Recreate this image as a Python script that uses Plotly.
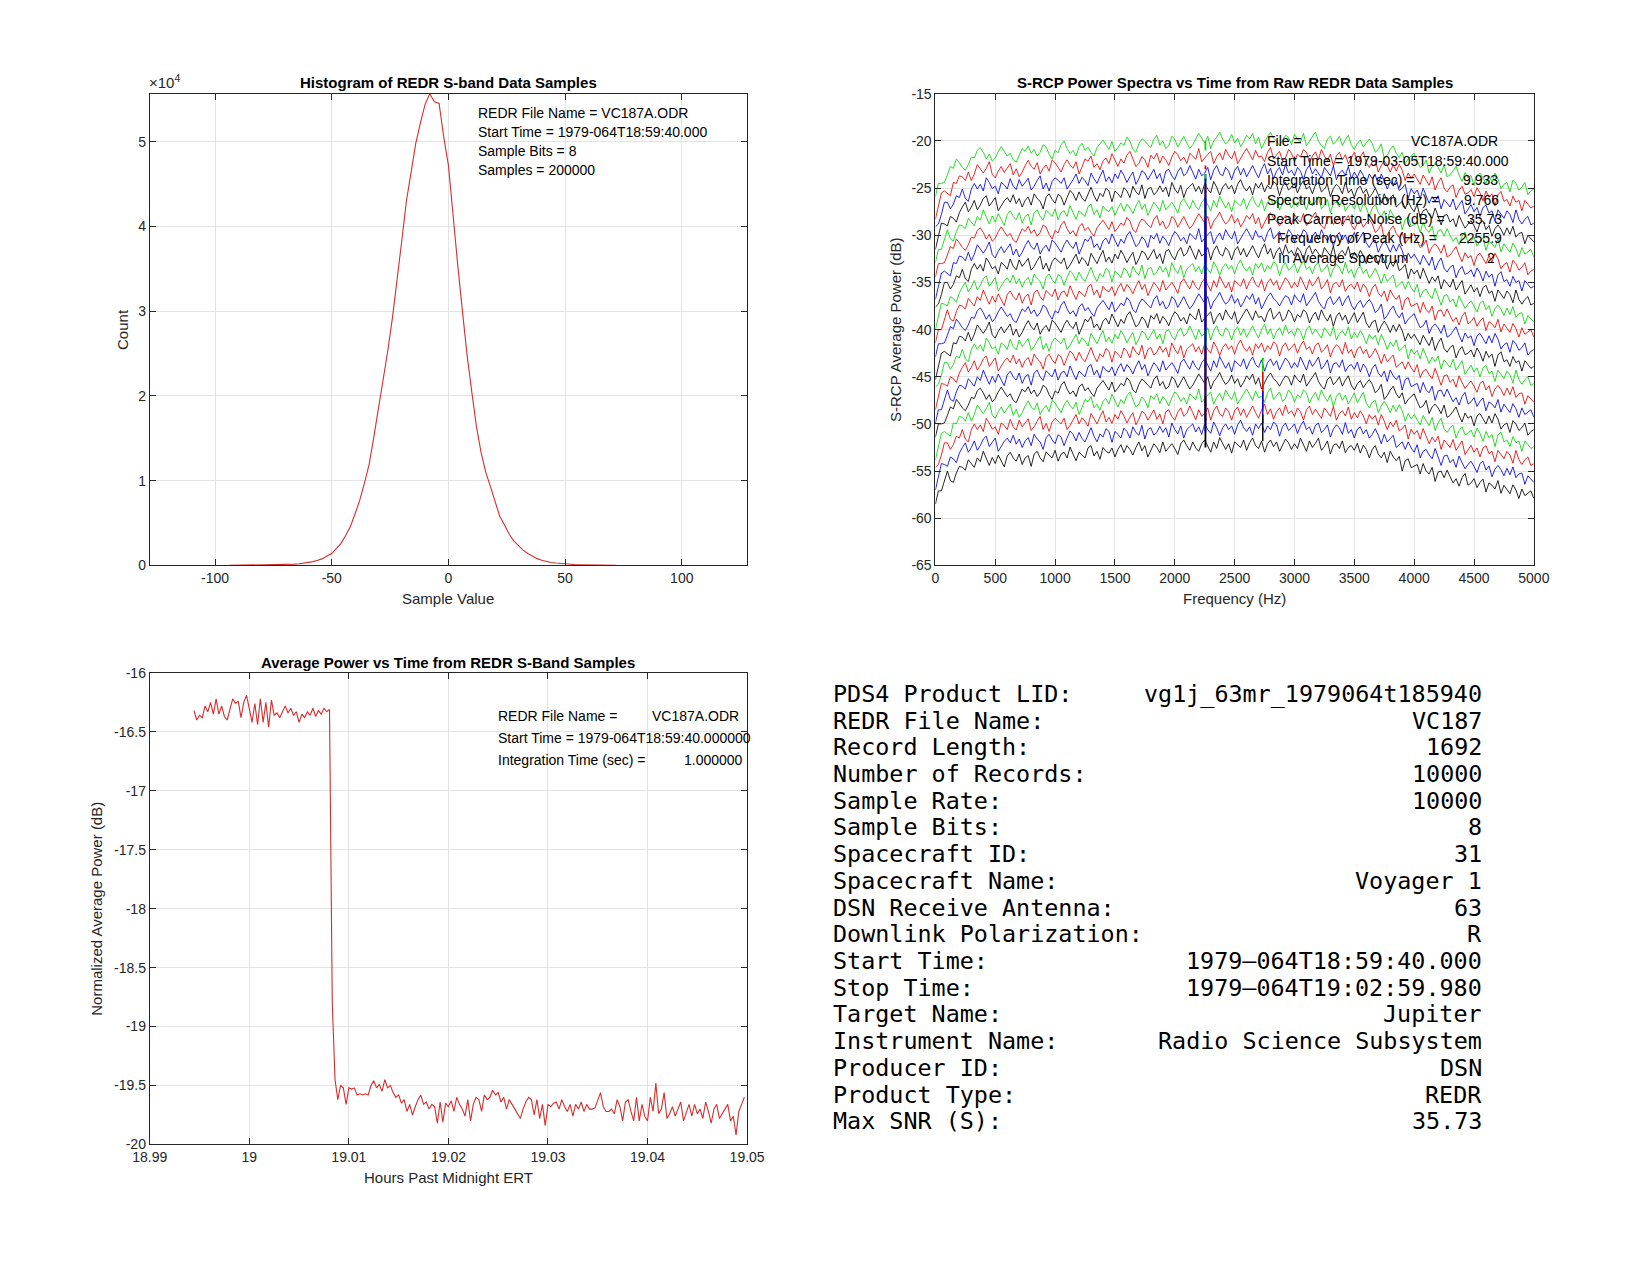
import numpy as np
import plotly.graph_objects as go

W, H = 1650, 1275
SANS = "Liberation Sans, Arial, Helvetica, sans-serif"
MONO = "DejaVu Sans Mono, monospace"
AX = "#262626"
GRID = "#e3e3e3"

# ---------------- Histogram data ----------------
hist_values = [-94, -92, -90, -88, -86, -84, -82, -80, -78, -76, -74, -72, -70, -68, -66, -64,
               -62, -60, -58, -56, -54, -52, -50, -48, -46, -44, -42, -40, -38, -36, -34, -32,
               -30, -28, -26, -24, -22, -20, -18, -16, -14, -12, -10, -8, -6, -4, -2, 0,
               2, 4, 6, 8, 10, 12, 14, 16, 18, 20, 22, 24, 26, 28, 30, 32,
               34, 36, 38, 40, 42, 44, 46, 48, 50, 52, 54, 56, 58, 60, 62, 64,
               66, 68, 70, 72]
hist_counts = [0, 5, 10, 12, 18, 20, 25, 30, 40, 50, 65, 80, 100, 120, 150, 200,
               260, 350, 450, 600, 800, 1100, 1400, 2000, 2600, 3550, 4600, 6100, 7700, 9700, 11900, 15100,
               18400, 21800, 25300, 29200, 33500, 38300, 43000, 46500, 49800, 52200, 54400, 55640, 54700, 54500, 50500, 47200,
               41000, 35400, 30000, 24800, 20500, 16400, 13300, 11000, 9300, 7500, 5800, 4800, 3700, 2900, 2300, 1800,
               1400, 1100, 800, 600, 450, 350, 280, 220, 170, 130, 100, 80, 60, 45, 40, 30,
               20, 15, 10, 0]

# ---------------- Spectra data ----------------
freq_step_hz = 25
freq_max_hz = 5000
shape_rel_db = [
    -6.0, -5.0, -4.2, -3.6, -3.2, -3.0, -2.8, -2.6, -2.5, -2.3, -2.1, -1.9, -1.7, -1.5, -1.4, -1.3, -1.2, -1.2, -1.2, -1.25,
    -1.3, -1.3, -1.3, -1.25, -1.2, -1.2, -1.2, -1.15, -1.1, -1.1, -1.1, -1.05, -1.0, -1.0, -1.0, -1.0, -1.0, -0.95, -0.9, -0.9,
    -0.9, -0.85, -0.8, -0.8, -0.8, -0.75, -0.7, -0.7, -0.7, -0.65, -0.6, -0.55, -0.5, -0.5, -0.5, -0.45, -0.4, -0.4, -0.4, -0.35,
    -0.3, -0.3, -0.3, -0.25, -0.2, -0.2, -0.2, -0.2, -0.2, -0.15, -0.1, -0.1, -0.1, -0.1, -0.1, -0.05, 0.0, 0.0, 0.0, 0.0,
    0.0, 0.05, 0.1, 0.1, 0.1, 0.1, 0.1, 0.15, 0.2, 0.2, 0.2, 0.2, 0.2, 0.2, 0.2, 0.25, 0.3, 0.3, 0.3, 0.3,
    0.3, 0.3, 0.3, 0.3, 0.3, 0.3, 0.3, 0.3, 0.3, 0.3, 0.3, 0.3, 0.3, 0.3, 0.3, 0.3, 0.3, 0.3, 0.3, 0.3,
    0.3, 0.3, 0.3, 0.3, 0.3, 0.3, 0.3, 0.25, 0.2, 0.2, 0.2, 0.2, 0.2, 0.15, 0.1, 0.1, 0.1, 0.05, 0.0, 0.0,
    0.0, -0.05, -0.1, -0.15, -0.2, -0.3, -0.4, -0.5, -0.6, -0.7, -0.8, -0.9, -1.0, -1.1, -1.2, -1.35, -1.5, -1.6, -1.7, -1.85,
    -2.0, -2.1, -2.2, -2.3, -2.4, -2.5, -2.6, -2.7, -2.8, -2.9, -3.0, -3.1, -3.2, -3.25, -3.3, -3.4, -3.5, -3.55, -3.6, -3.65,
    -3.7, -3.75, -3.8, -3.85, -3.9, -3.95, -4.0, -4.1, -4.2, -4.25, -4.3, -4.4, -4.5, -4.55, -4.6, -4.7, -4.8, -4.9, -5.0, -5.1,
    -5.2]
trace_levels_db = [-20.2, -21.9, -23.6, -25.3, -27.0, -28.7, -30.4, -32.1, -33.8, -35.5,
                   -37.2, -38.9, -40.6, -42.3, -44.0, -45.7, -47.4, -49.1, -50.8, -52.6]
trace_colors = ["rgb(0,215,0)", "rgb(235,0,0)", "rgb(0,0,230)", "rgb(0,0,0)"]

noise_1 = [
    0.3, 0.7, -0.1, -0.6, -0.2, 0.5, 0.1, 0.9, 0.4, -0.3, -0.8, -0.4, 0.2, -0.1, 0.6, 0.8, 0.2, -0.5, 0.0, -0.7,
    -0.3, 0.4, 0.9, 0.3, -0.2, 0.1, -0.6, -0.9, -0.2, 0.5, 0.2, 0.7, -0.1, 0.3, -0.4, 0.0, 0.8, 0.5, -0.3, -0.8,
    0.1, -0.2, 0.6, 1.0, 0.2, -0.4, -0.1, -0.7, 0.3, 0.6, -0.2, 0.1, -0.5, -0.9, 0.0, 0.4, 0.7, 0.2, -0.3, 0.5,
    -0.6, -0.2, 0.3, 0.0, 0.8, 0.4, -0.5, -0.8, 0.1, 0.6, 0.3, -0.1, -0.4, 0.5, 0.9, -0.2, 0.2, -0.6, -0.3, 0.7,
    0.4, -0.5, 0.1, 0.6, -0.1, -0.7, -0.3, 0.2, 0.8, 0.3, -0.2, 0.5, -0.8, 0.0, 0.4, 0.9, 0.1, -0.4, -0.1, 0.6,
    -0.3, 0.2, -0.7, -0.2, 0.5, 0.1, 0.7, -0.4, 0.3, -0.9, -0.3, 0.4, 0.8, 0.2, -0.1, -0.6, 0.0, 0.5, 0.3, -0.5,
    0.6, 0.1, -0.2, 0.7, -0.6, -0.1, 0.4, 0.9, 0.0, -0.5, -0.8, 0.2, 0.5, -0.3, 0.1, 0.6, -0.4, 0.3, 0.8, -0.2,
    -0.7, 0.0, 0.4, -0.3, 0.2, 0.7, 0.3, -0.5, -0.1, 0.6, -0.9, -0.4, 0.3, 0.8, 0.1, -0.2, 0.5, -0.6, 0.0, 0.4,
    0.9, 0.2, -0.4, -0.1, 0.6, -0.7, 0.1, 0.5, 0.2, -0.3, 0.7, -0.5, -0.2, 0.3, 0.8, 0.0, -0.6, 0.4, -0.1, 0.2,
    -0.8, 0.3, 0.6, 0.1, -0.4, 0.5, -0.2, 0.9, 0.4, -0.6, -0.1, 0.2, -0.7, 0.6, 0.3, -0.3, 0.1, 0.7, -0.5, 0.0,
    0.3]
noise_2 = [
    -0.4, 0.1, 0.6, 0.2, -0.5, -0.9, 0.3, 0.0, 0.7, 0.4, -0.2, 0.5, -0.6, -0.1, 0.8, 0.3, -0.3, 0.2, 0.9, -0.4,
    -0.7, 0.0, 0.5, -0.2, 0.3, 0.7, -0.5, 0.1, -0.8, -0.3, 0.4, 0.9, 0.2, -0.1, 0.6, -0.6, 0.0, 0.3, -0.4, 0.8,
    0.5, -0.1, -0.6, 0.2, 0.7, 0.1, -0.3, 0.4, -0.9, -0.2, 0.6, 0.3, 0.8, -0.4, 0.0, -0.7, 0.2, 0.5, -0.1, 0.9,
    0.1, -0.5, 0.3, -0.2, 0.6, 1.0, 0.2, -0.6, -0.3, 0.4, 0.0, -0.8, 0.5, 0.1, 0.7, -0.4, 0.3, -0.1, -0.7, 0.2,
    0.8, 0.4, -0.3, 0.1, -0.6, 0.5, 0.2, -0.2, 0.9, -0.5, -0.1, 0.3, 0.6, -0.7, 0.0, 0.4, -0.4, 0.7, 0.1, -0.3,
    0.5, -0.8, -0.2, 0.3, 0.8, 0.2, -0.4, 0.6, -0.1, 0.0, -0.6, 0.4, 0.9, -0.3, 0.1, 0.5, -0.5, -0.2, 0.7, 0.3,
    -0.6, 0.2, -0.1, 0.7, 0.4, -0.7, 0.0, 0.5, -0.3, 0.8, 0.1, -0.4, 0.3, -0.9, 0.2, 0.6, -0.2, 0.4, -0.5, 0.1,
    0.7, -0.3, 0.3, 0.9, -0.2, -0.6, 0.1, 0.4, -0.8, 0.0, 0.6, 0.2, -0.4, 0.5, -0.1, 0.8, 0.3, -0.7, 0.2, -0.2,
    0.4, 0.0, -0.5, 0.6, 0.1, -0.3, 0.7, -0.6, 0.3, 0.9, -0.1, -0.4, 0.2, 0.5, -0.8, 0.1, 0.6, -0.2, 0.0, 0.4,
    -0.3, 0.7, 0.2, -0.6, 0.5, -0.1, 0.3, -0.9, 0.4, 0.8, -0.2, 0.1, -0.5, 0.6, 0.0, 0.3, -0.7, 0.5, 0.2, -0.1,
    0.2]
noise_3 = [
    0.5, -0.2, 0.0, 0.7, 0.3, -0.6, -0.3, 0.4, 0.1, 0.8, -0.4, -0.9, 0.2, 0.6, -0.1, 0.3, -0.5, 0.9, 0.4, -0.2,
    0.1, -0.7, 0.5, 0.2, -0.3, 0.8, 0.0, -0.4, 0.6, -0.1, 0.3, 0.7, -0.6, -0.2, 0.4, 0.9, -0.5, 0.1, -0.8, 0.2,
    0.6, 0.3, -0.1, 0.5, -0.7, -0.3, 0.2, 0.8, -0.2, 0.4, 0.0, -0.6, 0.7, 0.1, -0.4, 0.3, 0.9, -0.3, 0.2, -0.5,
    0.4, -0.1, 0.8, 0.2, -0.6, 0.0, 0.5, -0.8, -0.2, 0.6, 0.3, -0.4, 0.1, 0.7, -0.3, 0.2, -0.9, 0.4, 0.6, -0.1,
    -0.5, 0.3, 0.7, -0.2, 0.1, 0.9, 0.2, -0.6, 0.4, -0.3, 0.0, 0.6, -0.7, 0.3, 0.8, -0.1, -0.4, 0.5, 0.1, -0.8,
    0.2, 0.6, -0.3, 0.4, -0.5, 0.1, 0.7, 0.0, -0.6, 0.3, 0.9, -0.2, 0.4, -0.7, 0.1, 0.5, -0.3, 0.8, -0.1, 0.2,
    -0.4, 0.5, 0.1, -0.8, 0.3, 0.7, -0.2, 0.4, 0.0, -0.5, 0.6, 0.2, -0.3, 0.8, -0.6, 0.1, 0.4, -0.1, 0.9, -0.4,
    0.3, -0.2, 0.6, 0.1, -0.7, 0.4, 0.0, 0.5, -0.4, 0.8, 0.2, -0.6, 0.3, -0.1, 0.7, -0.3, 0.1, 0.6, -0.8, 0.4,
    0.0, 0.5, -0.3, 0.9, 0.2, -0.5, 0.3, -0.1, 0.6, -0.7, 0.4, 0.1, -0.2, 0.7, -0.4, 0.2, 0.8, -0.6, 0.0, 0.5,
    -0.2, 0.3, -0.6, 0.4, 0.7, -0.1, 0.2, -0.8, 0.5, 0.1, -0.3, 0.6, 0.3, -0.5, 0.9, 0.0, -0.4, 0.2, 0.6, -0.2,
    0.1]
noise_4 = [
    -0.2, 0.4, 0.8, 0.1, -0.5, 0.3, -0.1, -0.7, 0.2, 0.6, 0.9, -0.3, 0.0, 0.5, -0.6, -0.2, 0.4, 0.7, -0.4, 0.1,
    0.6, -0.8, -0.3, 0.2, 0.5, 0.0, 0.8, -0.2, 0.3, -0.6, 0.1, 0.4, -0.5, 0.7, 0.2, -0.1, -0.9, 0.3, 0.6, 0.0,
    -0.4, 0.5, 0.2, -0.7, 0.1, 0.8, 0.4, -0.3, 0.6, -0.1, -0.5, 0.3, 0.9, 0.0, -0.6, 0.2, -0.2, 0.7, 0.4, -0.8,
    0.3, 0.0, -0.4, 0.6, 0.2, -0.5, 0.7, 0.1, -0.2, 0.8, -0.7, 0.3, 0.5, -0.3, 0.0, 0.6, -0.1, 0.4, -0.6, 0.9,
    0.2, -0.3, 0.5, -0.8, 0.1, 0.4, 0.7, -0.2, 0.3, -0.5, 0.6, 0.0, -0.4, 0.8, 0.2, -0.7, 0.1, 0.5, -0.1, 0.3,
    -0.6, 0.4, 0.9, 0.1, -0.3, 0.2, -0.7, 0.5, 0.0, 0.6, -0.4, 0.3, -0.1, 0.7, 0.4, -0.8, 0.2, 0.6, -0.2, 0.1,
    0.5, -0.5, 0.3, 0.8, -0.1, 0.2, -0.6, 0.4, 0.7, -0.3, 0.0, 0.5, -0.8, 0.1, 0.6, 0.3, -0.4, 0.9, -0.2, 0.2,
    -0.7, 0.3, 0.6, -0.1, 0.4, -0.4, 0.1, 0.8, 0.2, -0.6, 0.5, -0.2, 0.3, 0.7, -0.5, 0.0, 0.4, -0.3, 0.6, 0.1,
    -0.2, 0.7, -0.6, 0.2, 0.5, 0.0, -0.3, 0.9, 0.1, -0.7, 0.4, 0.6, -0.1, 0.3, -0.5, 0.8, 0.2, -0.4, 0.1, 0.5,
    0.0, -0.6, 0.4, 0.7, -0.2, 0.3, -0.8, 0.1, 0.6, 0.2, -0.4, 0.5, -0.1, 0.8, -0.3, 0.2, 0.4, -0.7, 0.3, 0.0,
    -0.2]
noise_5 = [
    0.1, 0.5, -0.3, 0.2, 0.8, -0.4, -0.8, 0.0, 0.6, 0.3, -0.2, 0.7, 0.1, -0.5, 0.4, -0.1, 0.9, 0.2, -0.6, 0.3,
    -0.3, 0.6, 0.0, -0.7, 0.4, 0.8, 0.2, -0.2, 0.5, -0.6, 0.1, 0.3, -0.9, 0.4, 0.7, 0.0, -0.4, 0.6, 0.2, -0.1,
    0.7, -0.5, 0.2, 0.4, -0.2, 0.9, 0.1, -0.6, 0.3, 0.0, -0.4, 0.6, 0.8, -0.3, 0.2, -0.7, 0.5, 0.1, -0.1, 0.4,
    -0.6, 0.2, 0.7, -0.2, 0.5, 0.1, -0.5, 0.3, 0.9, -0.1, 0.4, -0.8, 0.0, 0.6, 0.2, -0.4, 0.7, -0.3, 0.1, 0.5,
    0.0, -0.7, 0.4, 0.8, 0.2, -0.3, 0.6, -0.1, -0.5, 0.3, 0.7, 0.1, -0.6, 0.5, -0.2, 0.9, 0.3, -0.4, 0.2, -0.8,
    0.4, 0.1, -0.2, 0.6, -0.5, 0.3, 0.8, 0.0, -0.3, 0.5, -0.7, 0.2, 0.6, -0.1, 0.4, -0.6, 0.1, 0.7, 0.3, -0.4,
    0.2, -0.3, 0.8, 0.1, -0.6, 0.5, -0.2, 0.3, 0.9, -0.4, 0.0, 0.6, -0.8, 0.2, 0.4, -0.1, 0.7, -0.5, 0.1, 0.3,
    -0.2, 0.6, -0.4, 0.5, 0.1, -0.7, 0.3, 0.8, 0.0, -0.3, 0.4, -0.6, 0.7, 0.2, -0.1, 0.5, -0.9, 0.3, 0.6, -0.2,
    0.1, 0.4, -0.5, 0.7, 0.0, -0.2, 0.6, -0.8, 0.3, 0.5, -0.1, 0.8, 0.2, -0.4, 0.1, -0.6, 0.4, 0.9, -0.3, 0.0,
    0.5, -0.4, 0.2, 0.6, -0.7, 0.3, 0.1, -0.2, 0.8, -0.5, 0.4, 0.0, -0.3, 0.7, 0.2, -0.6, 0.5, -0.1, 0.3, 0.6,
    -0.1]

carrier_freq_hz = 2255.9
carrier_grid_index = 90
carrier_peak_db = [-20.0, -23.0, -23.5, -25.5, -23.5, -24.5, -24.0, -30.0, -27.0, -28.0,
                   -26.0, -36.0, -33.0, -34.0, -28.5, -42.0, -40.0, -42.0, -31.0, -47.0]
tone2_freq_hz = 2735.0
tone2_grid_index = 109
tone2_peak_db = [None, None, None, None, None, None, None, None, None, None,
                 None, None, None, None, -43.0, -46.0, -43.0, -44.5, -46.5, -49.0]

# ---------------- Average power data ----------------
start_time_hours = 18.994444
integration_sec = 1.0
power_db = [
    -16.32, -16.40, -16.36, -16.38, -16.28, -16.33, -16.25, -16.35, -16.22, -16.35,
    -16.28, -16.37, -16.40, -16.30, -16.22, -16.26, -16.24, -16.38, -16.25, -16.19,
    -16.32, -16.42, -16.26, -16.44, -16.22, -16.42, -16.25, -16.46, -16.23, -16.36,
    -16.34, -16.38, -16.33, -16.28, -16.34, -16.30, -16.36, -16.33, -16.42, -16.35,
    -16.38, -16.33, -16.36, -16.30, -16.37, -16.32, -16.35, -16.30, -16.33, -16.31,
    -18.80, -19.45,
    -19.62, -19.50, -19.52, -19.66, -19.52, -19.53, -19.52, -19.58, -19.57, -19.58,
    -19.57, -19.58, -19.50, -19.46, -19.52,
    -19.49, -19.55, -19.45, -19.52, -19.50, -19.56, -19.60, -19.58, -19.65, -19.62,
    -19.72, -19.66, -19.75, -19.68,
    -19.62, -19.58, -19.66, -19.64, -19.70, -19.66, -19.68, -19.82, -19.64, -19.81,
    -19.65, -19.68, -19.63, -19.72, -19.60, -19.66, -19.70, -19.76, -19.62, -19.80,
    -19.66, -19.60, -19.62, -19.72, -19.58, -19.62, -19.60, -19.54, -19.58, -19.56,
    -19.64, -19.60, -19.70, -19.62, -19.66, -19.70, -19.74, -19.78, -19.70, -19.64,
    -19.60, -19.62, -19.75, -19.62, -19.78, -19.66, -19.84, -19.66, -19.68, -19.65,
    -19.64, -19.70, -19.62, -19.68, -19.72, -19.66, -19.76, -19.66, -19.70, -19.64,
    -19.72, -19.66, -19.70, -19.70, -19.69, -19.62, -19.56, -19.68, -19.72, -19.72,
    -19.70, -19.74, -19.62, -19.68, -19.80, -19.64, -19.62, -19.72, -19.80, -19.60,
    -19.80, -19.66, -19.76, -19.80, -19.60, -19.72, -19.48, -19.74, -19.70, -19.56,
    -19.78, -19.74, -19.68, -19.76, -19.70, -19.64, -19.80, -19.72, -19.66, -19.76,
    -19.66, -19.74, -19.70, -19.78, -19.64, -19.72, -19.82, -19.70, -19.66, -19.78,
    -19.74, -19.70, -19.66, -19.80, -19.76, -19.92, -19.72, -19.66, -19.60,
]

# ---------------- Table text ----------------
table_labels = ["PDS4 Product LID:", "REDR File Name:", "Record Length:", "Number of Records:",
                "Sample Rate:", "Sample Bits:", "Spacecraft ID:", "Spacecraft Name:",
                "DSN Receive Antenna:", "Downlink Polarization:", "Start Time:", "Stop Time:",
                "Target Name:", "Instrument Name:", "Producer ID:", "Product Type:", "Max SNR (S):"]
table_values = ["vg1j_63mr_1979064t185940", "VC187", "1692", "10000", "10000", "8", "31",
                "Voyager 1", "63", "R", "1979\u2013064T18:59:40.000", "1979\u2013064T19:02:59.980",
                "Jupiter", "Radio Science Subsystem", "DSN", "REDR", "35.73"]

# ---------------- Figure ----------------
fig = go.Figure()

fig.add_trace(go.Scatter(x=hist_values, y=hist_counts, mode="lines",
                         line=dict(color="rgb(215,45,45)", width=1.1),
                         xaxis="x", yaxis="y", hoverinfo="skip"))

freq = np.arange(0, freq_max_hz + 1, freq_step_hz)
noise_sets = [noise_1, noise_2, noise_3, noise_4, noise_5]
for i, lvl in enumerate(trace_levels_db):
    col = trace_colors[i % 4]
    y = np.array(shape_rel_db) + lvl + np.array(noise_sets[i % 5])
    fig.add_trace(go.Scatter(x=freq, y=y, mode="lines", line=dict(color=col, width=0.85),
                             xaxis="x2", yaxis="y2", hoverinfo="skip"))
    fig.add_trace(go.Scatter(x=[carrier_freq_hz, carrier_freq_hz],
                             y=[y[carrier_grid_index] - 0.8, carrier_peak_db[i]],
                             mode="lines", line=dict(color=col, width=1.8),
                             xaxis="x2", yaxis="y2", hoverinfo="skip"))
    if tone2_peak_db[i] is not None:
        fig.add_trace(go.Scatter(x=[tone2_freq_hz, tone2_freq_hz],
                                 y=[y[tone2_grid_index], tone2_peak_db[i]],
                                 mode="lines", line=dict(color=col, width=1.4),
                                 xaxis="x2", yaxis="y2", hoverinfo="skip"))

t_hours = start_time_hours + np.arange(len(power_db)) * integration_sec / 3600.0
fig.add_trace(go.Scatter(x=t_hours, y=power_db, mode="lines",
                         line=dict(color="rgb(215,45,45)", width=1.1),
                         xaxis="x3", yaxis="y3", hoverinfo="skip"))


def px_x(p):
    return p / W


def px_y(p):
    return 1 - p / H


def axis_common(**kw):
    d = dict(showline=True, linecolor=AX, linewidth=1, mirror="ticks", ticks="inside",
             ticklen=6, tickcolor=AX, tickwidth=1, showgrid=True, gridcolor=GRID,
             gridwidth=1, zeroline=False, tickfont=dict(family=SANS, size=14, color=AX),
             fixedrange=True)
    d.update(kw)
    return d


hx_ticks = [-100, -50, 0, 50, 100]
hy_ticks = [0, 10000, 20000, 30000, 40000, 50000]
sx_ticks = [0, 500, 1000, 1500, 2000, 2500, 3000, 3500, 4000, 4500, 5000]
sy_ticks = [-65, -60, -55, -50, -45, -40, -35, -30, -25, -20, -15]
px_ticks = [18.99, 19.0, 19.01, 19.02, 19.03, 19.04, 19.05]
py_ticks = [-20, -19.5, -19, -18.5, -18, -17.5, -17, -16.5, -16]


def lab(v):
    return "%g" % v


# axes boxes (page pixels)
L1, R1 = 126.5, 737.2
L2, R2 = 929.7, 1541.5
T1, B1 = 78.8, 556.4
T2, B2 = 665.2, 1142.8

fig.update_layout(
    width=W, height=H, margin=dict(l=0, r=0, t=0, b=0), autosize=False,
    paper_bgcolor="white", plot_bgcolor="white", showlegend=False,
    xaxis=axis_common(domain=[px_x(L1), px_x(R1)], range=[-128, 128], anchor="y",
                      tickvals=hx_ticks, ticktext=[lab(v) for v in hx_ticks]),
    yaxis=axis_common(domain=[px_y(B1), px_y(T1)], range=[0, 55640], anchor="x",
                      tickvals=hy_ticks, ticktext=["0", "1", "2", "3", "4", "5"]),
    xaxis2=axis_common(domain=[px_x(L2), px_x(R2)], range=[0, 5000], anchor="y2",
                       tickvals=sx_ticks, ticktext=[lab(v) for v in sx_ticks]),
    yaxis2=axis_common(domain=[px_y(B1), px_y(T1)], range=[-65, -15], anchor="x2",
                       tickvals=sy_ticks, ticktext=[lab(v) for v in sy_ticks]),
    xaxis3=axis_common(domain=[px_x(L1), px_x(R1)], range=[18.99, 19.05], anchor="y3",
                       tickvals=px_ticks, ticktext=[lab(v) for v in px_ticks]),
    yaxis3=axis_common(domain=[px_y(B2), px_y(T2)], range=[-20, -16], anchor="x3",
                       tickvals=py_ticks, ticktext=[lab(v) for v in py_ticks]),
)

anns = []


def ann(text, x, y, size=14, xanchor="left", yanchor="middle", bold=False, angle=0,
        family=SANS, color="black"):
    t = "<b>%s</b>" % text if bold else text
    anns.append(dict(text=t, x=px_x(x), y=px_y(y), xref="paper", yref="paper",
                     xanchor=xanchor, yanchor=yanchor, showarrow=False, textangle=angle,
                     font=dict(family=family, size=size, color=color)))


c1 = (L1 + R1) / 2
c2 = (L2 + R2) / 2
# titles
ann("Histogram of REDR S-band Data Samples", c1, 67.5, size=15, xanchor="center", bold=True)
ann("S-RCP Power Spectra vs Time from Raw REDR Data Samples", c2, 67.5, size=15,
    xanchor="center", bold=True)
ann("Average Power vs Time from REDR S-Band Samples", c1, 654.5, size=15,
    xanchor="center", bold=True)
# axis titles
ann("Sample Value", c1, 589.5, size=15, xanchor="center", color=AX)
ann("Count", 98.5, (T1 + B1) / 2, size=15, xanchor="center", angle=-90, color=AX)
ann("Frequency (Hz)", c2, 589.5, size=15, xanchor="center", color=AX)
ann("S-RCP Average Power (dB)", 888.8, (T1 + B1) / 2, size=15, xanchor="center", angle=-90,
    color=AX)
ann("Hours Past Midnight ERT", c1, 1175.8, size=15, xanchor="center", color=AX)
ann("Normalized Average Power (dB)", 72.7, (T2 + B2) / 2, size=15, xanchor="center",
    angle=-90, color=AX)
ann("\u00d710<sup>4</sup>", L1 - 3, T1 - 1, size=15, xanchor="left", yanchor="bottom", color=AX)

# histogram info text
hist_info = ["REDR File Name = VC187A.ODR", "Start Time = 1979-064T18:59:40.000",
             "Sample Bits = 8", "Samples = 200000"]
for k, s in enumerate(hist_info):
    ann(s, 459.8, 98.0 + 19.17 * k, size=14)

# spectra info text
spec_left = ["File =", "Start Time = 1979-03-05T18:59:40.000", "Integration Time (sec) =",
             "Spectrum Resolution (Hz) =", "Peak Carrier-to-Noise (dB) =",
             "Frequency of Peak (Hz) =", "In Average Spectrum"]
spec_left_x = [1266.2, 1266.2, 1266.2, 1266.2, 1266.2, 1277.0, 1277.5]
spec_right = ["VC187A.ODR", "", "9.933", "9.766", "35.73", "2255.9", "2"]
spec_right_x = [1507, 0, 1507, 1508, 1511, 1511, 1503.5]
for k in range(7):
    yy = 126.8 + 19.7 * k
    ann(spec_left[k], spec_left_x[k], yy, size=14)
    if spec_right[k]:
        ann(spec_right[k], spec_right_x[k], yy, size=14, xanchor="right")

# power info text
ann("REDR File Name =", 480.2, 709.0, size=14)
ann("VC187A.ODR", 731.0, 709.0, size=14, xanchor="right")
ann("Start Time = 1979-064T18:59:40.000000", 480.2, 731.2, size=14)
ann("Integration Time (sec) =", 480.2, 753.6, size=14)
ann("1.000000", 735.0, 753.6, size=14, xanchor="right")

# table
for k in range(len(table_labels)):
    yy = 686.5 + 27.05 * k
    ann(table_labels[k].replace(" ", "&nbsp;"), 822.5, yy, size=23.4, family=MONO)
    ann(table_values[k].replace(" ", "&nbsp;"), 1490.5, yy, size=23.4, family=MONO,
        xanchor="right")

fig.update_layout(annotations=anns)
fig.write_html("out.html")
